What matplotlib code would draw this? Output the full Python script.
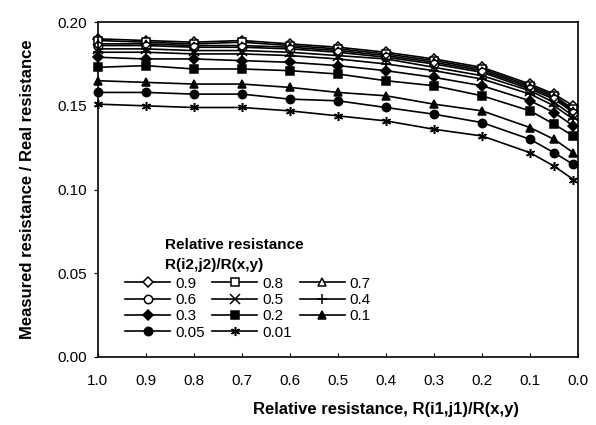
import matplotlib.pyplot as plt

plt.rcParams['font.family'] = ['Liberation Sans', 'DejaVu Sans']

# x positions: relative resistance R(i1,j1)/R(x,y)
x_vals = [1.0, 0.9, 0.8, 0.7, 0.6, 0.5, 0.4, 0.3, 0.2, 0.1, 0.05, 0.01]

# one series per relative resistance R(i2,j2)/R(x,y)
r_09 = [0.190, 0.189, 0.188, 0.189, 0.187, 0.185, 0.182, 0.178, 0.173, 0.163, 0.157, 0.150]
r_08 = [0.189, 0.188, 0.187, 0.188, 0.186, 0.184, 0.181, 0.177, 0.172, 0.162, 0.156, 0.148]
r_07 = [0.187, 0.187, 0.186, 0.186, 0.185, 0.183, 0.180, 0.176, 0.171, 0.161, 0.155, 0.147]
r_06 = [0.186, 0.186, 0.185, 0.185, 0.184, 0.182, 0.179, 0.175, 0.170, 0.160, 0.154, 0.146]
r_05 = [0.184, 0.184, 0.183, 0.183, 0.182, 0.180, 0.178, 0.173, 0.168, 0.159, 0.152, 0.144]
r_04 = [0.182, 0.182, 0.181, 0.181, 0.180, 0.178, 0.175, 0.171, 0.166, 0.157, 0.150, 0.142]
r_03 = [0.179, 0.178, 0.178, 0.177, 0.176, 0.174, 0.171, 0.167, 0.162, 0.153, 0.146, 0.138]
r_02 = [0.173, 0.174, 0.172, 0.172, 0.171, 0.169, 0.165, 0.162, 0.156, 0.147, 0.139, 0.132]
r_01 = [0.165, 0.164, 0.163, 0.163, 0.161, 0.158, 0.156, 0.151, 0.147, 0.137, 0.130, 0.122]
r_005 = [0.158, 0.158, 0.157, 0.157, 0.154, 0.153, 0.149, 0.145, 0.140, 0.130, 0.122, 0.115]
r_001 = [0.151, 0.150, 0.149, 0.149, 0.147, 0.144, 0.141, 0.136, 0.132, 0.122, 0.114, 0.106]

labels = ["0.9", "0.8", "0.7", "0.6", "0.5", "0.4", "0.3", "0.2", "0.1", "0.05", "0.01"]
series = [r_09, r_08, r_07, r_06, r_05, r_04, r_03, r_02, r_01, r_005, r_001]

x_ticks = [1.0, 0.9, 0.8, 0.7, 0.6, 0.5, 0.4, 0.3, 0.2, 0.1, 0.0]
y_ticks = [0.00, 0.05, 0.10, 0.15, 0.20]

# marker style per series: (marker, filled)
styles = {
    "0.9": ("D", False),
    "0.8": ("s", False),
    "0.7": ("^", False),
    "0.6": ("o", False),
    "0.5": ("x", True),
    "0.4": ("+", True),
    "0.3": ("D", True),
    "0.2": ("s", True),
    "0.1": ("^", True),
    "0.05": ("o", True),
    "0.01": ((6, 2, 0), True),
}

fig = plt.figure(figsize=(5.96, 4.25), dpi=100)
ax = fig.add_axes([0.164, 0.16, 0.806, 0.788])

handles = {}
for lab, ys in zip(labels, series):
    marker, filled = styles[lab]
    size = 6.5 if marker in ("x", "+", (6, 2, 0)) else 6
    if marker == "D":
        size = 5.5
    line, = ax.plot(x_vals, ys, color='black', linewidth=1.2,
                    marker=marker, markersize=size,
                    markerfacecolor='black' if filled else 'white',
                    markeredgecolor='black', markeredgewidth=1.1,
                    label=lab, clip_on=False)
    handles[lab] = line

ax.set_xlim(1.0, 0.0)
ax.set_ylim(0.0, 0.20)
ax.set_xticks(x_ticks)
ax.set_xticklabels([f"{t:.1f}" for t in x_ticks])
ax.set_yticks(y_ticks)
ax.set_yticklabels([f"{t:.2f}" for t in y_ticks])
ax.tick_params(axis='y', direction='out', length=3, labelsize=11, pad=5)
ax.tick_params(axis='x', direction='in', length=3, labelsize=11, pad=12)
for sp in ax.spines.values():
    sp.set_linewidth(1.2)

ax.set_xlabel("Relative resistance, R(i1,j1)/R(x,y)", fontsize=12,
              fontweight='bold')
ax.set_ylabel("Measured resistance / Real resistance", fontsize=12,
              fontweight='bold')
ax.xaxis.set_label_coords(0.6, -0.135)
ax.yaxis.set_label_coords(-0.13, 0.5)

# legend laid out row by row like the original (3 columns)
order = ["0.9", "0.6", "0.3", "0.05", "0.8", "0.5", "0.2", "0.01", "0.7", "0.4", "0.1"]
leg = ax.legend([handles[k] for k in order], order, ncol=3, frameon=False,
                loc='upper left', bbox_to_anchor=(0.044, 0.258),
                fontsize=11, handlelength=2.95, handletextpad=0.33,
                columnspacing=0.5, labelspacing=0.15, borderaxespad=0)

ax.text(0.14, 0.334, "Relative resistance", transform=ax.transAxes,
        fontsize=11, fontweight='bold', va='center', ha='left')
ax.text(0.14, 0.275, "R(i2,j2)/R(x,y)", transform=ax.transAxes,
        fontsize=11, fontweight='bold', va='center', ha='left')

fig.savefig("out.png", dpi=100)
